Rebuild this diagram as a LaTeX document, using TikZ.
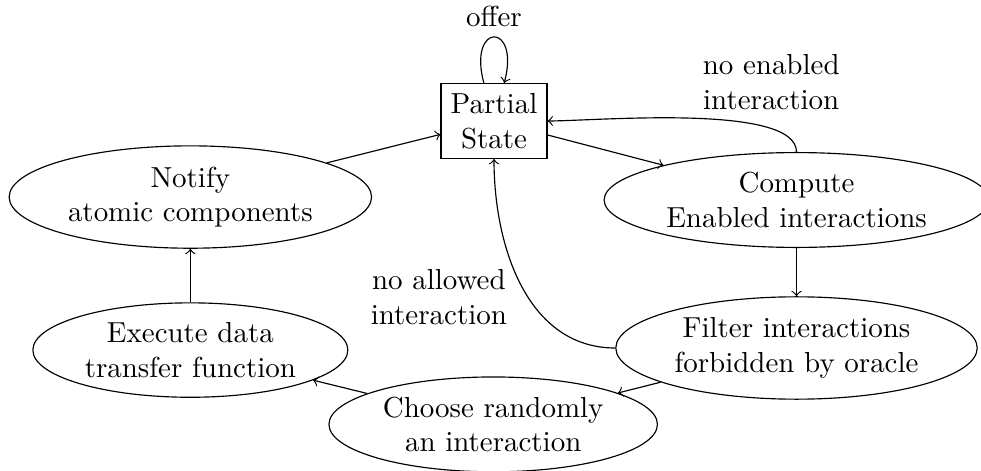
\documentclass[tikz,border=0pt]{standalone}
\usepackage{tikz}
\usetikzlibrary{shapes.geometric,positioning}
\tikzset{
  flow/.style={->},
  statebox/.style={draw,rectangle,align=center},
  phase/.style={draw,ellipse,align=center,inner sep=2pt},
  cond/.style={align=center}
}
\begin{document}
\begin{tikzpicture}
  \useasboundingbox (0,0) rectangle (11.905,-5.704);
  \node[statebox] (ps) at (5.995,-1.468) {Partial\\State};
  \node[phase] (notify) at (2.31,-2.391) {Notify\\atomic components};
  \node[phase] (execute) at (2.31,-4.248) {Execute data\\transfer function};
  \node[phase] (choose) at (5.985,-5.15) {Choose randomly\\an interaction};
  \node[phase] (filter) at (9.666,-4.223) {Filter interactions\\forbidden by oracle};
  \node[phase] (compute) at (9.666,-2.427) {Compute\\Enabled interactions};
  \draw[flow] (ps) to[loop above] node[above] {offer} (ps);
  \draw[flow] (notify) -- (ps);
  \draw[flow] (ps) -- (compute);
  \draw[flow] (compute) -- (filter);
  \draw[flow] (filter) -- (choose);
  \draw[flow] (choose) -- (execute);
  \draw[flow] (execute) -- (notify);
  \draw[flow] (compute.north) to[out=90,in=0,looseness=0.5]
    node[pos=0.22,above=1mm,cond] {no enabled\\interaction} (ps.east);
  \draw[flow] (filter.west) to[out=180,in=270]
    node[pos=0.45,left=1.3mm,cond] {no allowed\\interaction} (ps.south);
\end{tikzpicture}
\end{document}
